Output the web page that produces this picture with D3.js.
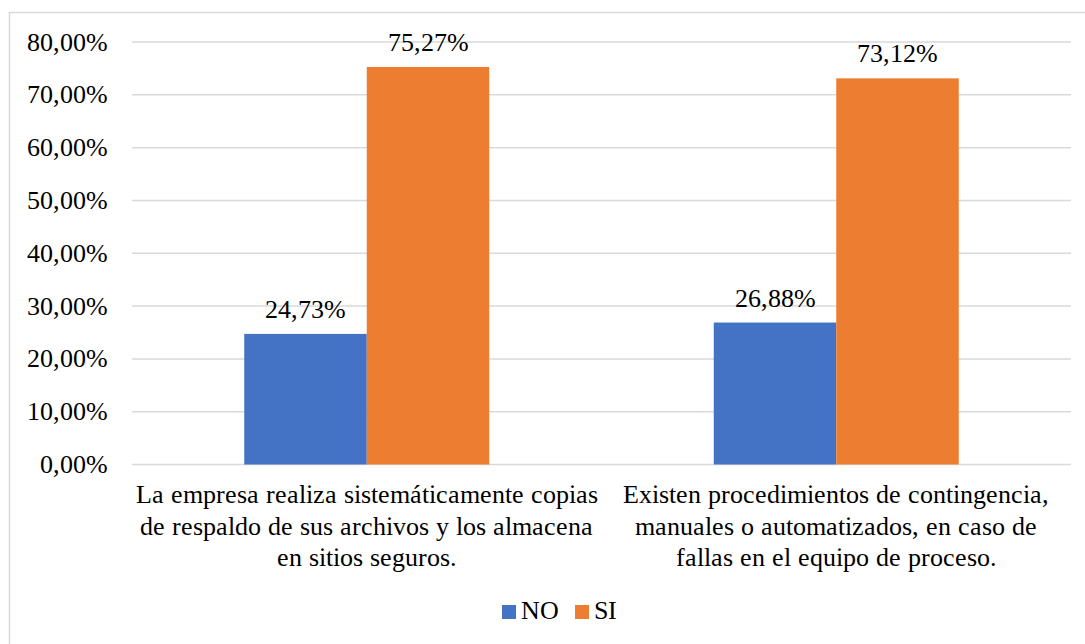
<!DOCTYPE html>
<html>
<head>
<meta charset="utf-8">
<script src="https://cdn.jsdelivr.net/npm/d3@7"></script>
<style>
  @font-face { font-family: "ChartSerif"; src: local("Liberation Serif"), local("LiberationSerif"), local("Times New Roman"); }
  body { margin: 0; }
  svg text { font-family: "ChartSerif", "Liberation Serif", serif; }
</style>
</head>
<body>
<script>
// data
let categories = [
  ["La empresa realiza sistemáticamente copias", "de respaldo de sus archivos y los almacena", "en sitios seguros."],
  ["Existen procedimientos de contingencia,", "manuales o automatizados, en caso de", "fallas en el equipo de proceso."]
];
let seriesNames = ["NO", "SI"];
let valuesNO = [24.73, 26.88];
let valuesSI = [75.27, 73.12];
let yTicks = [0, 10, 20, 30, 40, 50, 60, 70, 80];

let W = 1085, H = 644;
let plot = {left:132, right:1071, top:42, bottom:464.5};
let colors = {NO:"#4472c4", SI:"#ed7d31"};
let fontSize = "26px";

let fmt = v => v.toFixed(2).replace(".", ",") + "%";

let svg = d3.select("body").append("svg").attr("width", W).attr("height", H);

// outer frame (right/bottom edges fall outside the picture)
svg.append("rect")
  .attr("x", 9.5).attr("y", 12.5)
  .attr("width", W + 20).attr("height", H + 20)
  .attr("fill", "none").attr("stroke", "#d9d9d9").attr("stroke-width", 1.5);

let y = d3.scaleLinear().domain([0, 80]).range([plot.bottom, plot.top]);
let x0 = d3.scaleBand().domain(d3.range(categories.length)).range([plot.left, plot.right]);
let bw = 122.5;
let x1 = d3.scaleBand().domain(seriesNames).range([0, bw * 2]);

// gridlines
svg.selectAll("line.grid").data(yTicks).enter().append("line")
  .attr("class", "grid")
  .attr("x1", plot.left).attr("x2", plot.right)
  .attr("y1", d => y(d)).attr("y2", d => y(d))
  .attr("stroke", "#d9d9d9").attr("stroke-width", 1.5);

// y labels
svg.selectAll("text.ylab").data(yTicks).enter().append("text")
  .attr("class", "ylab")
  .attr("x", 108).attr("y", d => y(d)).attr("dy", "0.33em")
  .attr("text-anchor", "end")
  .attr("font-family", "ChartSerif")
  .style("font-size", fontSize)
  .text(d => fmt(d));

// bars
let data = [];
categories.forEach((c, i) => {
  data.push({cat:i, s:"NO", v:valuesNO[i]});
  data.push({cat:i, s:"SI", v:valuesSI[i]});
});
let groupX = i => x0(i) + x0.bandwidth() / 2 - bw;

svg.selectAll("rect.bar").data(data).enter().append("rect")
  .attr("class", "bar")
  .attr("x", d => groupX(d.cat) + x1(d.s))
  .attr("width", x1.bandwidth())
  .attr("y", d => y(d.v))
  .attr("height", d => y(0) - y(d.v))
  .attr("fill", d => colors[d.s]);

// value labels
svg.selectAll("text.val").data(data).enter().append("text")
  .attr("class", "val")
  .attr("x", d => groupX(d.cat) + x1(d.s) + x1.bandwidth() / 2)
  .attr("y", d => y(d.v) - 16)
  .attr("text-anchor", "middle")
  .attr("font-family", "ChartSerif")
  .style("font-size", fontSize)
  .text(d => fmt(d.v));

// category labels, one text per line
let catLines = [];
categories.forEach((lines, i) => lines.forEach((l, j) => catLines.push({i, j, l})));
svg.selectAll("text.cat").data(catLines).enter().append("text")
  .attr("class", "cat")
  .attr("x", d => x0(d.i) + x0.bandwidth() / 2)
  .attr("y", d => 503 + d.j * 31.5)
  .attr("text-anchor", "middle")
  .attr("font-family", "ChartSerif")
  .style("font-size", fontSize)
  .text(d => d.l);

// legend
let items = [{s:"NO", x:502}, {s:"SI", x:575}];
svg.selectAll("rect.key").data(items).enter().append("rect")
  .attr("class", "key")
  .attr("x", d => d.x).attr("y", 605).attr("width", 14).attr("height", 14)
  .attr("fill", d => colors[d.s]);
svg.selectAll("text.key").data(items).enter().append("text")
  .attr("class", "key")
  .attr("x", d => d.x + 19).attr("y", 619)
  .attr("font-family", "ChartSerif")
  .style("font-size", fontSize)
  .text(d => d.s);
</script>
</body>
</html>
